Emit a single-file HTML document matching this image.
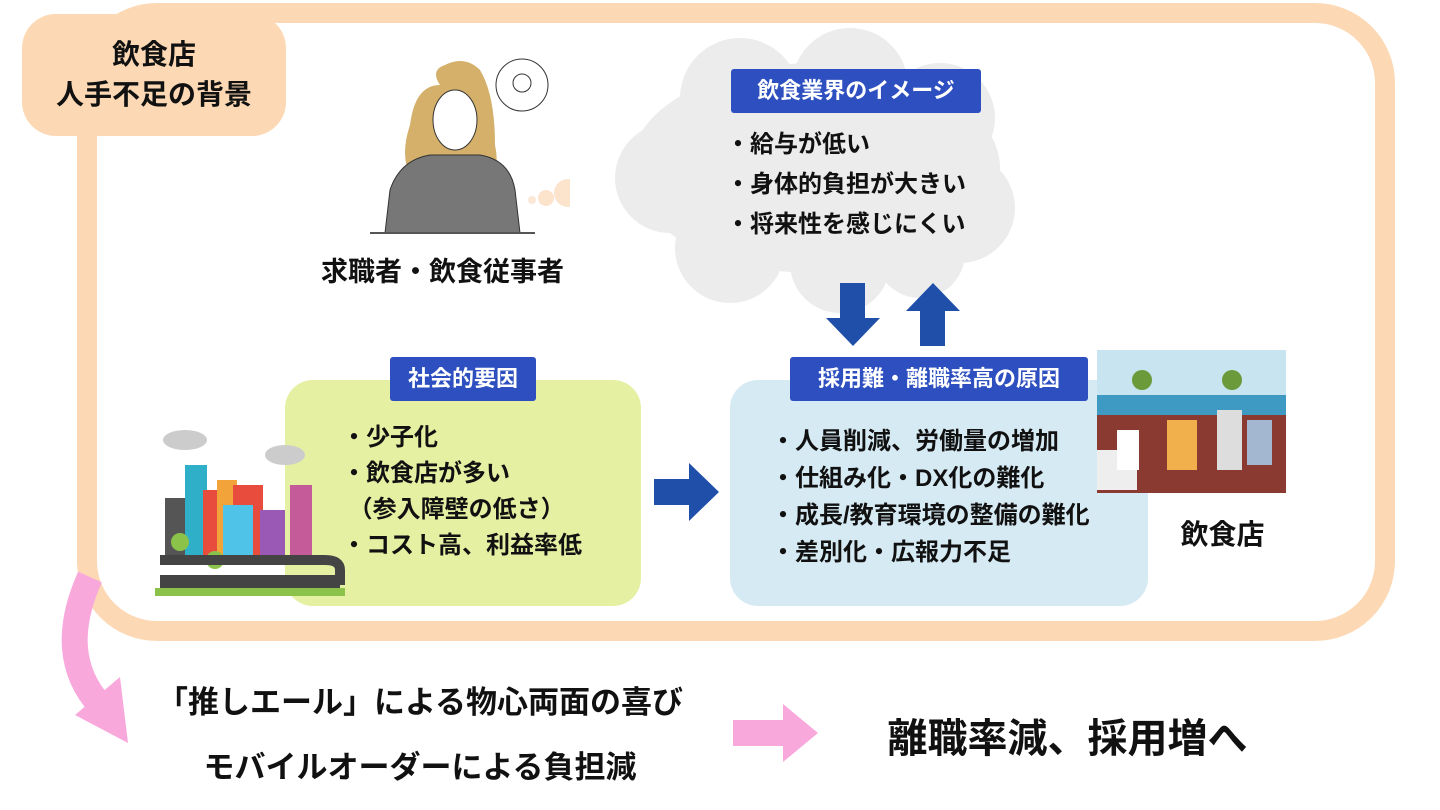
<!DOCTYPE html>
<html><head><meta charset="utf-8"><style>
body{margin:0;width:1440px;height:810px;background:#fff;position:relative;overflow:hidden;font-family:"Liberation Sans","Noto Sans CJK JP",sans-serif;font-weight:bold;color:#111}
.a{position:absolute}
.frame{left:77px;top:3px;width:1278px;height:598px;border:20px solid #fcd9b4;border-radius:80px}
.lbl{left:22px;top:14px;width:264px;height:122px;background:#fcd9b4;border-radius:34px;font-size:28px;line-height:40px;text-align:center;display:flex;align-items:center;justify-content:center}
.hdr{background:#2d4fbf;color:#fff;font-size:22px;height:44px;line-height:44px;text-align:center;border-radius:3px;white-space:nowrap}
.li{font-size:24px;line-height:40px;white-space:nowrap}
</style></head><body>
<div class="a frame"></div>
<div class="a lbl">飲食店<br>人手不足の背景</div>

<!-- woman -->
<svg class="a" style="left:370px;top:55px" width="200" height="185">
<path d="M70 30 Q60 15 75 10 Q95 0 110 15 Q125 40 125 90 Q130 115 120 120 L40 120 Q30 100 40 70 Q45 30 70 30Z" fill="#d4b06a"/>
<ellipse cx="85" cy="65" rx="22" ry="30" fill="#fff" stroke="#333"/>
<path d="M15 178 L20 135 Q30 105 60 100 L110 100 Q140 105 145 135 L150 178Z" fill="#777" stroke="#333"/>
<line x1="0" y1="178" x2="165" y2="178" stroke="#555" stroke-width="2"/>
<circle cx="152" cy="30" r="26" fill="#fff" stroke="#333"/>
<circle cx="152" cy="28" r="9" fill="none" stroke="#333"/>
<circle cx="162" cy="145" r="4" fill="#fbe8d6"/><circle cx="176" cy="143" r="8" fill="#fbe3cc"/>
<circle cx="198" cy="138" r="14" fill="#fbe3cc"/>
</svg>
<div class="a" style="left:290px;top:250px;width:305px;text-align:center;font-size:27px">求職者・飲食従事者</div>

<!-- cloud -->
<svg class="a" style="left:610px;top:28px" width="410" height="290">
<g fill="#ececec">
<ellipse cx="205" cy="140" rx="185" ry="105"/>
<circle cx="130" cy="70" r="60"/><circle cx="240" cy="58" r="58"/><circle cx="330" cy="90" r="55"/>
<circle cx="60" cy="150" r="55"/><circle cx="350" cy="180" r="55"/>
<circle cx="120" cy="220" r="55"/><circle cx="230" cy="235" r="50"/><circle cx="310" cy="225" r="45"/>
</g></svg>
<div class="a hdr" style="left:731px;top:69px;width:250px">飲食業界のイメージ</div>
<div class="a li" style="left:726px;top:125px">・給与が低い<br>・身体的負担が大きい<br>・将来性を感じにくい</div>

<!-- up/down arrows -->
<svg class="a" style="left:825px;top:283px" width="140" height="65">
<path d="M15 0 H40 V35 H55 L28 63 L1 35 H15Z" fill="#1f4fa8"/>
<path d="M95 63 H120 V28 H135 L108 0 L81 28 H95Z" fill="#1f4fa8"/>
</svg>

<!-- green box -->
<div class="a" style="left:285px;top:380px;width:356px;height:226px;background:#e6f0a2;border-radius:28px"></div>
<div class="a hdr" style="left:390px;top:357px;width:146px">社会的要因</div>
<div class="a li" style="left:342px;top:420px;line-height:36px">・少子化<br>・飲食店が多い<br>&nbsp;（参入障壁の低さ）<br>・コスト高、利益率低</div>

<!-- city -->
<svg class="a" style="left:155px;top:410px" width="190" height="190">
<ellipse cx="30" cy="30" rx="22" ry="10" fill="#ccc"/><ellipse cx="130" cy="45" rx="20" ry="10" fill="#ccc"/>
<rect x="30" y="55" width="22" height="90" fill="#2fb0c8"/>
<rect x="48" y="80" width="18" height="65" fill="#e84c3d"/>
<rect x="62" y="70" width="20" height="75" fill="#f2a33a"/>
<rect x="78" y="75" width="30" height="70" fill="#e84c3d"/>
<rect x="68" y="95" width="30" height="50" fill="#4fc3e8"/>
<rect x="105" y="100" width="25" height="45" fill="#9b59b6"/>
<rect x="135" y="75" width="22" height="70" fill="#c65b9a"/>
<rect x="10" y="88" width="20" height="57" fill="#555"/>
<circle cx="25" cy="132" r="9" fill="#8bc34a"/><circle cx="60" cy="150" r="9" fill="#8bc34a"/>
<path d="M5 150 H170 Q185 150 185 160 V170 H10 V178 H185" fill="none" stroke="#444" stroke-width="10"/>
<rect x="0" y="178" width="190" height="8" fill="#8bc34a"/>
</svg>

<!-- blue right arrow -->
<svg class="a" style="left:654px;top:463px" width="66" height="58"><path d="M0 16 H35 V0 L65 29 L35 58 V42 H0Z" fill="#1f4fa8"/></svg>

<!-- blue box -->
<div class="a" style="left:730px;top:380px;width:418px;height:226px;background:#d6eaf4;border-radius:28px"></div>
<div class="a hdr" style="left:790px;top:357px;width:298px">採用難・離職率高の原因</div>
<div class="a li" style="left:771px;top:423px;line-height:37px">・人員削減、労働量の増加<br>・仕組み化・DX化の難化<br>・成長/教育環境の整備の難化<br>・差別化・広報力不足</div>

<!-- restaurant -->
<svg class="a" style="left:1097px;top:350px" width="189" height="143">
<rect width="189" height="50" fill="#c8e4f0"/><rect y="45" width="189" height="20" fill="#3e9ac2"/>
<rect y="65" width="189" height="78" fill="#8b3a32"/>
<circle cx="45" cy="30" r="10" fill="#6a9a3a"/><circle cx="135" cy="30" r="10" fill="#6a9a3a"/>
<rect x="0" y="100" width="40" height="40" fill="#eee"/>
<rect x="70" y="70" width="30" height="50" fill="#f1b04c"/><rect x="120" y="60" width="25" height="60" fill="#ddd"/>
<rect x="150" y="70" width="25" height="45" fill="#a3b8d0"/><rect x="20" y="80" width="22" height="40" fill="#fff"/>
</svg>
<div class="a" style="left:1160px;top:513px;width:125px;text-align:center;font-size:28px">飲食店</div>

<!-- pink curved arrow -->
<svg class="a" style="left:40px;top:565px" width="100" height="185">
<path d="M50 12 Q15 90 60 140" fill="none" stroke="#f9a8dc" stroke-width="26"/>
<path d="M35 150 L88 178 L80 112Z" fill="#f9a8dc"/>
</svg>

<div class="a" style="left:120px;top:677px;width:600px;text-align:center;font-size:31px;white-space:nowrap">「推しエール」による物心両面の喜び</div>
<div class="a" style="left:120px;top:742px;width:600px;text-align:center;font-size:31px;white-space:nowrap">モバイルオーダーによる負担減</div>

<svg class="a" style="left:733px;top:704px" width="86" height="58"><path d="M0 16 H50 V0 L85 29 L50 58 V42 H0Z" fill="#f9a8dc"/></svg>
<div class="a" style="left:860px;top:706px;width:415px;text-align:center;font-size:40px;white-space:nowrap">離職率減、採用増へ</div>
</body></html>
